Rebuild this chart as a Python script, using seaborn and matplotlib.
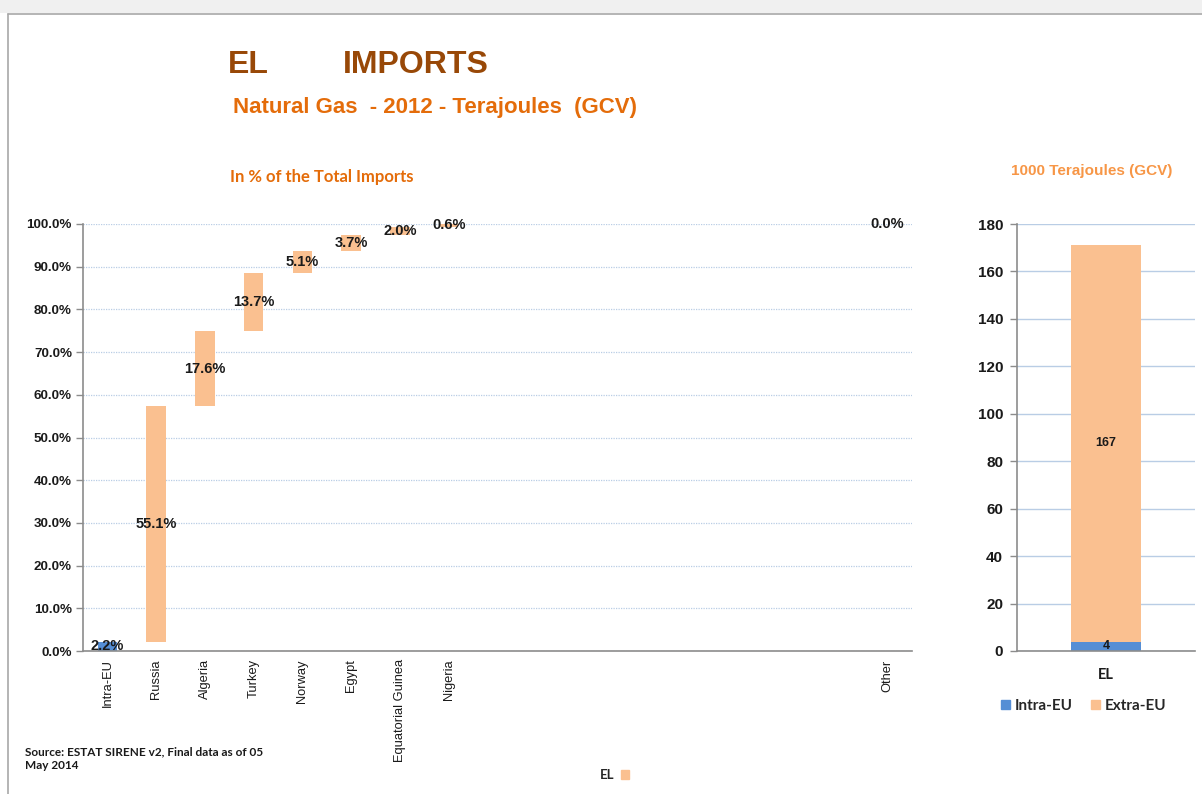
import matplotlib
matplotlib.use("Agg")
import matplotlib.pyplot as plt
import seaborn as sns
import numpy as np
from matplotlib.patches import Patch, Rectangle
from matplotlib.lines import Line2D
from matplotlib.ticker import FixedLocator

# ---------------- data ----------------
partners = ["Intra-EU", "Russia", "Algeria", "Turkey", "Norway", "Egypt",
            "Equatorial Guinea", "Nigeria", "", "", "", "", "", "", "", "", "Other"]
shares = [2.2, 55.1, 17.6, 13.7, 5.1, 3.7, 2.0, 0.6, 0, 0, 0, 0, 0, 0, 0, 0, 0.0]
share_labels = ["2.2%", "55.1%", "17.6%", "13.7%", "5.1%", "3.7%", "2.0%", "0.6%",
                "", "", "", "", "", "", "", "", "0.0%"]
share_group = ["Intra-EU"] + ["Extra-EU"] * 16
y_ticks_pct = [0, 10, 20, 30, 40, 50, 60, 70, 80, 90, 100]

country = ["EL"]
intra_eu = [4]
extra_eu = [167]
y_ticks_tj = [0, 20, 40, 60, 80, 100, 120, 140, 160, 180]

BLUE = "#558ED5"
ORANGE = "#FAC090"
GRID = "#B9CDE5"
SPINE = "#8C8C8C"
ARIAL = ["Liberation Sans", "DejaVu Sans"]
CALIBRI = ["Lato", "DejaVu Sans"]

sns.set_theme(style="white")
plt.rcParams["font.family"] = ARIAL

fig = plt.figure(figsize=(12.02, 7.94), dpi=100)
W, H = 1202, 794

def fx(px):
    return px / W

def fy(py):
    return 1 - py / H

# window frame
fig.add_artist(Rectangle((0, fy(13)), 1, 13 / H, transform=fig.transFigure,
                         facecolor="#F0F0F0", edgecolor="none"))
fig.add_artist(Line2D([fx(8), 1], [fy(13.5), fy(13.5)], transform=fig.transFigure,
                      color="#A8A8A8", lw=1.2))
fig.add_artist(Line2D([fx(8), fx(8)], [0, fy(13.5)], transform=fig.transFigure,
                      color="#A8A8A8", lw=1.2))

# ---------------- left waterfall ----------------
axL = fig.add_axes([fx(83), fy(651), fx(912) - fx(83), fy(224) - fy(651)])
n = len(partners)
pos = list(range(n))
palette = {"Intra-EU": BLUE, "Extra-EU": ORANGE}
sns.barplot(x=pos, y=shares, hue=share_group, palette=palette, dodge=False,
            width=0.4, ax=axL, legend=False, saturation=1, linewidth=0)
bases = np.concatenate([[0], np.cumsum(shares)[:-1]])
for p in axL.patches:
    idx = int(round(p.get_x() + p.get_width() / 2))
    p.set_y(bases[idx])
for i in range(n):
    if share_labels[i]:
        axL.text(i, bases[i] + shares[i] / 2, share_labels[i], ha="center", va="center",
                 fontsize=10.5, fontweight="bold", color="#1A1A1A", zorder=5)
axL.set_xlim(-0.5, n - 0.5)
axL.set_ylim(0, 100)
axL.set_yticks(y_ticks_pct)
axL.set_yticklabels([f"{v:.1f}%" for v in y_ticks_pct], fontsize=9.6, fontweight="bold",
                    color="#1A1A1A")
axL.set_xticks(pos)
axL.set_xticklabels(partners, rotation=90, fontsize=9.3, color="#1A1A1A", va="top")
axL.tick_params(axis="x", which="major", length=0, pad=6)
axL.xaxis.set_minor_locator(FixedLocator(np.arange(-0.5, n, 1.0)))
axL.tick_params(axis="x", which="minor", length=5, color=SPINE, width=1, direction="out")
axL.tick_params(axis="y", which="major", length=5, color=SPINE, width=1, direction="out", left=True, pad=3)
axL.grid(axis="y", color=GRID, linestyle=(0, (1, 1)), linewidth=0.9)
axL.set_axisbelow(True)
for s in ["top", "right"]:
    axL.spines[s].set_visible(False)
for s in ["left", "bottom"]:
    axL.spines[s].set_color(SPINE)
    axL.spines[s].set_linewidth(1.2)
axL.set_xlabel("")
axL.set_ylabel("")

# ---------------- right stacked bar ----------------
axR = fig.add_axes([fx(1017), fy(651), fx(1195) - fx(1017), fy(224) - fy(651)])
sns.barplot(x=country, y=intra_eu, color=BLUE, width=0.39, ax=axR, saturation=1, linewidth=0)
sns.barplot(x=country, y=extra_eu, color=ORANGE, width=0.39, ax=axR, saturation=1, linewidth=0)
axR.patches[1].set_y(intra_eu[0])
axR.text(0, intra_eu[0] / 2, f"{intra_eu[0]}", ha="center", va="center", fontsize=9,
         fontweight="bold", color="#1A1A1A")
axR.text(0, intra_eu[0] + extra_eu[0] / 2, f"{extra_eu[0]}", ha="center", va="center",
         fontsize=9, fontweight="bold", color="#1A1A1A")
axR.set_xlim(-0.5, 0.5)
axR.set_ylim(0, 180)
axR.set_yticks(y_ticks_tj)
axR.set_yticklabels([str(v) for v in y_ticks_tj], fontsize=11, fontweight="bold", color="#1A1A1A")
axR.set_xticks([0])
axR.set_xticklabels(country, fontsize=10.5, fontfamily=CALIBRI, fontweight="bold", color="#1A1A1A")
axR.tick_params(axis="x", which="major", length=0, pad=12)
axR.xaxis.set_minor_locator(FixedLocator([-0.5, 0.5]))
axR.tick_params(axis="x", which="minor", length=5, color=SPINE, width=1, direction="out")
axR.tick_params(axis="y", length=5, color=SPINE, width=1, direction="out", left=True, pad=5)
axR.grid(axis="y", color=GRID, linestyle="-", linewidth=1)
axR.set_axisbelow(True)
for s in ["top", "right"]:
    axR.spines[s].set_visible(False)
for s in ["left", "bottom"]:
    axR.spines[s].set_color(SPINE)
    axR.spines[s].set_linewidth(1.2)
axR.set_xlabel("")
axR.set_ylabel("")

fig.legend(handles=[Patch(color=BLUE), Patch(color=ORANGE)], labels=["Intra-EU", "Extra-EU"],
           loc="center", bbox_to_anchor=(fx(1084), fy(706)), ncol=2, frameon=False,
           prop={"family": CALIBRI, "size": 11, "weight": "bold"}, handlelength=0.55,
           handleheight=0.55, handletextpad=0.35, columnspacing=1.2)

fig.legend(handles=[Patch(color=ORANGE)], labels=["EL"], markerfirst=False,
           loc="center", bbox_to_anchor=(fx(614), fy(775)), frameon=False,
           prop={"family": CALIBRI, "size": 9.5, "weight": "bold"}, handlelength=0.6,
           handleheight=0.6, handletextpad=0.5)

# ---------------- titles ----------------
fig.text(fx(228), fy(73), "EL", fontsize=23, fontweight="bold", color="#984807",
         ha="left", va="baseline")
fig.text(fx(343), fy(73), "IMPORTS", fontsize=23, fontweight="bold", color="#984807",
         ha="left", va="baseline")
fig.text(fx(233), fy(108), "Natural Gas  - 2012 - Terajoules  (GCV)", fontsize=16,
         fontweight="bold", color="#E46C0A", ha="left", va="center")
fig.text(fx(230), fy(177), "In % of the Total Imports", fontsize=12, fontweight="bold",
         color="#E46C0A", ha="left", va="center", family=CALIBRI)
fig.text(fx(1092), fy(171), "1000 Terajoules (GCV)", fontsize=11, fontweight="bold",
         color="#F79646", ha="center", va="center")
fig.text(fx(25), fy(759), "Source: ESTAT SIRENE v2, Final data as of 05\nMay 2014",
         fontsize=8.5, fontweight="bold", color="#1A1A1A", ha="left", va="center",
         family=CALIBRI, linespacing=1.3)

fig.savefig("out.png", dpi=100)
